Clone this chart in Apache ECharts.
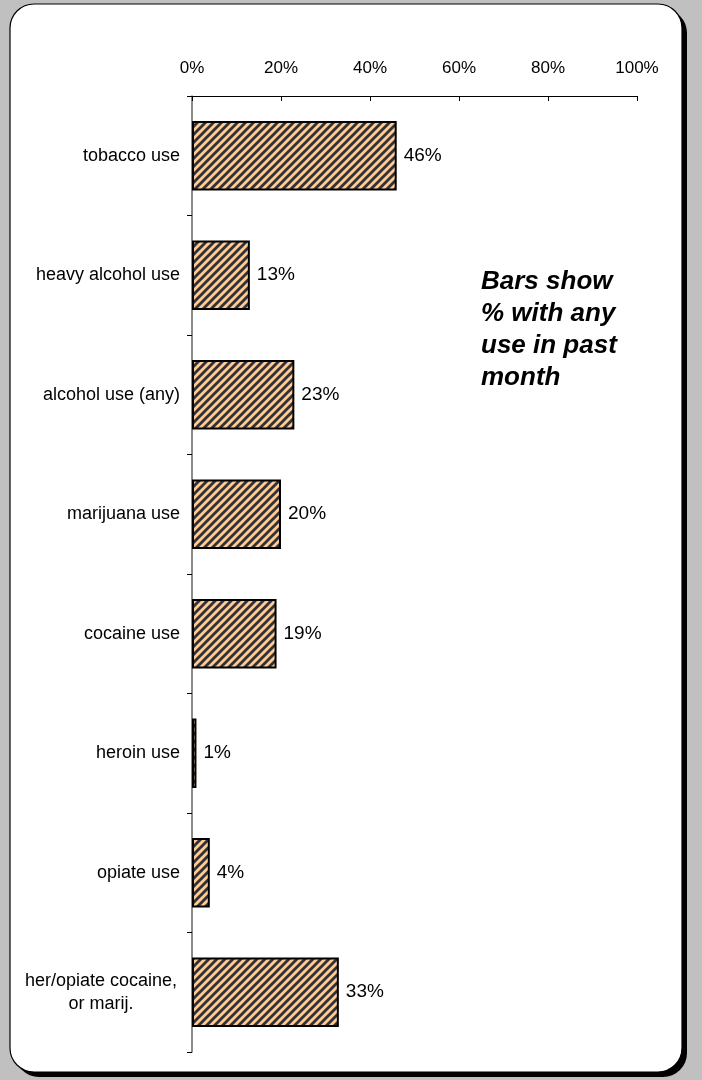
<!DOCTYPE html>
<html><head><meta charset="utf-8">
<script src="https://cdn.jsdelivr.net/npm/echarts@6/dist/echarts.min.js"></script>
<style>html,body{margin:0;padding:0;background:#c0c0c0;}#c{width:702px;height:1080px;}</style>
</head><body><div id="c"></div>
<script>
const categories = ['tobacco use','heavy alcohol use','alcohol use (any)','marijuana use','cocaine use','heroin use','opiate use','her/opiate cocaine,\nor marij.'];
const values = [46,13,23,20,19,1,4,33];
const xTicks = [0,20,40,60,80,100];
const note = ['Bars show','% with any','use in past','month'];

function stripes(){
  const s=8, c=document.createElement('canvas'); c.width=s; c.height=s;
  const g=c.getContext('2d');
  g.fillStyle='#ffcc99'; g.fillRect(0,0,s,s);
  g.strokeStyle='#333333'; g.lineWidth=2.9;
  [[-1,s+1,s+1,-1],[-2,2,2,-2],[s-2,s+2,s+2,s-2]].forEach(l=>{g.beginPath();g.moveTo(l[0],l[1]);g.lineTo(l[2],l[3]);g.stroke();});
  return c;
}
const chart = echarts.init(document.getElementById('c'));
const font = 'Liberation Sans, Arial, sans-serif';
chart.setOption({
  animation:false,
  textStyle:{fontFamily:font},
  graphic:[
    {type:'rect',z:-10,shape:{x:15,y:9,width:672,height:1068,r:24},style:{fill:'#000'}},
    {type:'rect',z:-9,shape:{x:10,y:4,width:672,height:1068,r:24},style:{fill:'#fff',stroke:'#000',lineWidth:1.2}},
    {type:'text',z:10,left:481,top:266,style:{text:note.join('\n'),font:'italic bold 26px Liberation Sans, Arial, sans-serif',lineHeight:32,fill:'#000'}}
  ],
  grid:{left:192,right:65,top:96,bottom:28,containLabel:false},
  xAxis:{type:'value',position:'top',min:xTicks[0],max:xTicks[xTicks.length-1],interval:xTicks[1]-xTicks[0],
    axisLine:{show:true,lineStyle:{color:'#000',width:1}},
    axisTick:{show:true,inside:true,length:5,lineStyle:{color:'#000'}},
    splitLine:{show:false},
    axisLabel:{formatter:v=>v+'%',fontSize:17,color:'#000',margin:19,fontFamily:font}},
  yAxis:{type:'category',inverse:true,data:categories,
    axisLine:{show:true,lineStyle:{color:'#666',width:1.5}},
    axisTick:{show:true,length:5,lineStyle:{color:'#000'}},
    axisLabel:{fontSize:18,color:'#000',margin:12,fontFamily:font,lineHeight:23,
      formatter:v=>v.indexOf('\n')>=0?v.split('\n').map(s=>'{c|'+s+'}').join('\n'):v,
      rich:{c:{width:158,align:'center',fontSize:18,lineHeight:23,fontFamily:font,color:'#000'}}}},
  series:[{type:'bar',data:values,barWidth:'58%',
    itemStyle:{color:{image:stripes(),repeat:'repeat'},borderColor:'#000',borderWidth:2},
    label:{show:true,position:'right',distance:7,formatter:p=>p.value+'%',fontSize:19,color:'#000',fontFamily:font}}]
});
</script></body></html>
